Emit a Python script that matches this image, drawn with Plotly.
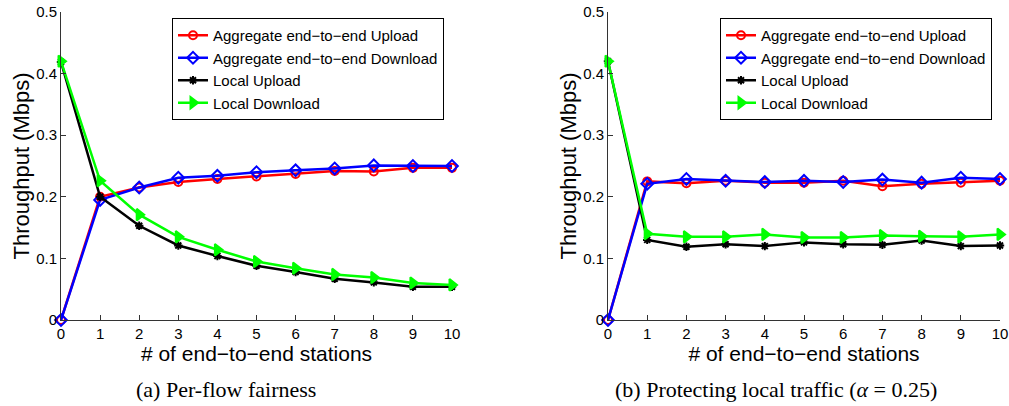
import plotly.graph_objects as go

stations = list(range(0, 11))
x_ticks = [str(i) for i in stations]
y_ticks = [0, 0.1, 0.2, 0.3, 0.4, 0.5]
y_tick_labels = ["0", "0.1", "0.2", "0.3", "0.4", "0.5"]

series_names = [
    "Aggregate end\u2212to\u2212end Upload",
    "Aggregate end\u2212to\u2212end Download",
    "Local Upload",
    "Local Download",
]

# (a) Per-flow fairness
a_e2e_upload = [0.0, 0.200, 0.215, 0.224, 0.229, 0.233, 0.237, 0.242, 0.241, 0.247, 0.247]
a_e2e_download = [0.0, 0.195, 0.215, 0.231, 0.234, 0.240, 0.243, 0.246, 0.251, 0.250, 0.250]
a_local_upload = [0.419, 0.200, 0.153, 0.121, 0.104, 0.088, 0.078, 0.067, 0.061, 0.054, 0.054]
a_local_download = [0.420, 0.226, 0.171, 0.135, 0.114, 0.095, 0.084, 0.074, 0.069, 0.060, 0.057]

# (b) Protecting local traffic
b_e2e_upload = [0.0, 0.225, 0.222, 0.226, 0.223, 0.223, 0.226, 0.217, 0.221, 0.223, 0.226]
b_e2e_download = [0.0, 0.221, 0.229, 0.226, 0.224, 0.226, 0.224, 0.228, 0.223, 0.231, 0.229]
b_local_upload = [0.420, 0.130, 0.119, 0.123, 0.120, 0.126, 0.123, 0.122, 0.129, 0.120, 0.121]
b_local_download = [0.420, 0.140, 0.135, 0.135, 0.139, 0.134, 0.134, 0.137, 0.136, 0.135, 0.139]

captions = ["(a) Per-flow fairness", "(b) Protecting local traffic (<i>\u03b1</i> = 0.25)"]

colors = ["#ff0000", "#0000ff", "#000000", "#00ff00"]
symbols = ["circle-open", "diamond-open", "asterisk-open", "triangle-right"]
msizes = [8, 9, 7, 10]

W, H = 1009, 406
left_dom = [61 / W, 452 / W]
right_dom = [608 / W, 1000 / W]
y_dom = [(H - 320) / H, (H - 12) / H]

fig = go.Figure()

panels = [
    ("x", "y", "legend", [a_e2e_upload, a_e2e_download, a_local_upload, a_local_download]),
    ("x2", "y2", "legend2", [b_e2e_upload, b_e2e_download, b_local_upload, b_local_download]),
]
for xa, ya, leg, data in panels:
    for i, vals in enumerate(data):
        fig.add_trace(go.Scatter(
            x=stations, y=vals, mode="lines+markers", name=series_names[i],
            line=dict(color=colors[i], width=2.5),
            marker=dict(symbol=symbols[i], size=msizes[i], color=colors[i],
                        line=dict(color=colors[i], width=2)),
            xaxis=xa, yaxis=ya, legend=leg, cliponaxis=False,
        ))

sans = "Liberation Sans, Arial, sans-serif"
font_tick = dict(family=sans, size=15, color="black")
font_xtitle = dict(family=sans, size=21, color="black")
font_ytitle = dict(family=sans, size=22, color="black")

def xaxis(dom, anchor):
    return dict(domain=dom, anchor=anchor, range=[0, 10], tickvals=stations, ticktext=x_ticks,
                showline=True, linecolor="#333", linewidth=1, ticks="inside", ticklen=5,
                tickcolor="#333", showgrid=False, zeroline=False, tickfont=font_tick,
                automargin=False, ticklabelstandoff=0,
                title=dict(text="# of end\u2212to\u2212end stations", font=font_xtitle, standoff=0))

def yaxis(anchor):
    return dict(domain=y_dom, anchor=anchor, range=[0, 0.5], tickvals=y_ticks, ticktext=y_tick_labels,
                showline=True, linecolor="#333", linewidth=1, ticks="inside", ticklen=5,
                tickcolor="#333", showgrid=False, zeroline=False, tickfont=font_tick,
                automargin=False, ticklabelstandoff=0,
                title=dict(text="Throughput (Mbps)", font=font_ytitle, standoff=0))

legend_common = dict(bgcolor="white", bordercolor="black", borderwidth=1,
                     font=dict(family=sans, size=15, color="black"),
                     xanchor="right", yanchor="top", tracegroupgap=0, itemwidth=30)

cap_font = dict(family="Liberation Serif, Times New Roman, serif", size=22, color="black")

fig.update_layout(
    width=W, height=H, margin=dict(l=0, r=0, t=0, b=0),
    template="none",
    plot_bgcolor="white", paper_bgcolor="white",
    xaxis=xaxis(left_dom, "y"), yaxis=yaxis("x"),
    xaxis2=xaxis(right_dom, "y2"), yaxis2=yaxis("x2"),
    legend=dict(x=444 / W, y=(H - 18) / H, **legend_common),
    legend2=dict(x=992 / W, y=(H - 18) / H, **legend_common),
    annotations=[
        dict(text=captions[0], x=226 / W, y=(H - 389) / H, xref="paper", yref="paper",
             xanchor="center", yanchor="middle", showarrow=False, font=cap_font),
        dict(text=captions[1], x=776 / W, y=(H - 389) / H, xref="paper", yref="paper",
             xanchor="center", yanchor="middle", showarrow=False, font=cap_font),
    ],
)

fig.write_html("out.html", config={"displayModeBar": False},
               post_script="document.body.style.margin='0';document.body.style.overflow='hidden';")
